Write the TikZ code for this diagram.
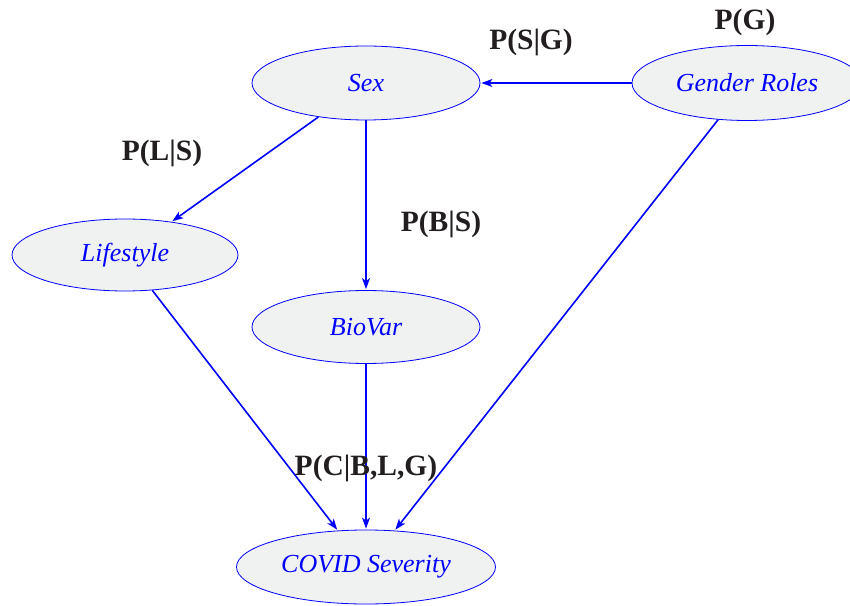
\documentclass[tikz,border=0pt]{standalone}
\usepackage{fontspec}
\setmainfont{Liberation Serif}
\usetikzlibrary{shapes.geometric,arrows.meta}
\definecolor{nodefill}{RGB}{240,241,241}
\definecolor{labelcol}{RGB}{34,30,31}
\tikzset{
  var/.style={ellipse, draw=blue, line width=0.8pt, fill=nodefill, inner sep=0pt,
    text=blue, font=\fontsize{26}{30}\selectfont\itshape},
  prob/.style={text=labelcol, font=\fontsize{29.5}{33}\selectfont\bfseries, inner sep=0pt},
  edge/.style={draw=blue, line width=1.6pt, -{Stealth[length=11pt,width=8pt,inset=3pt]}, shorten >=1pt}
}
\begin{document}
\begin{tikzpicture}[x=1pt,y=1pt]
\useasboundingbox (0,0) rectangle (850,605);
\clip (0,0) rectangle (850,605);
\node[var, minimum width=228pt, minimum height=74pt] (sex) at (366,522) {Sex};
\node[var, minimum width=230pt, minimum height=75pt] (gender) at (747,522) {Gender Roles};
\node[var, minimum width=226pt, minimum height=72pt] (life) at (125,350) {Lifestyle};
\node[var, minimum width=228pt, minimum height=73pt] (bio) at (366,278) {BioVar};
\node[var, minimum width=259pt, minimum height=74pt] (covid) at (366,38) {COVID Severity};
\draw[edge] (gender) -- (sex);
\draw[edge] (sex) -- (life);
\draw[edge] (sex) -- (bio);
\draw[edge] (life) -- (covid);
\draw[edge] (bio) -- (covid);
\draw[edge] (gender) -- (covid);
\node[prob] (pg) at (745,583) {P(G)};
\node[prob] (psg) at (531,563) {P(S|G)};
\node[prob] (pls) at (162,452) {P(L|S)};
\node[prob] (pbs) at (441,381) {P(B|S)};
\node[prob] (pc) at (366,137) {P(C|B,L,G)};
\end{tikzpicture}
\end{document}
